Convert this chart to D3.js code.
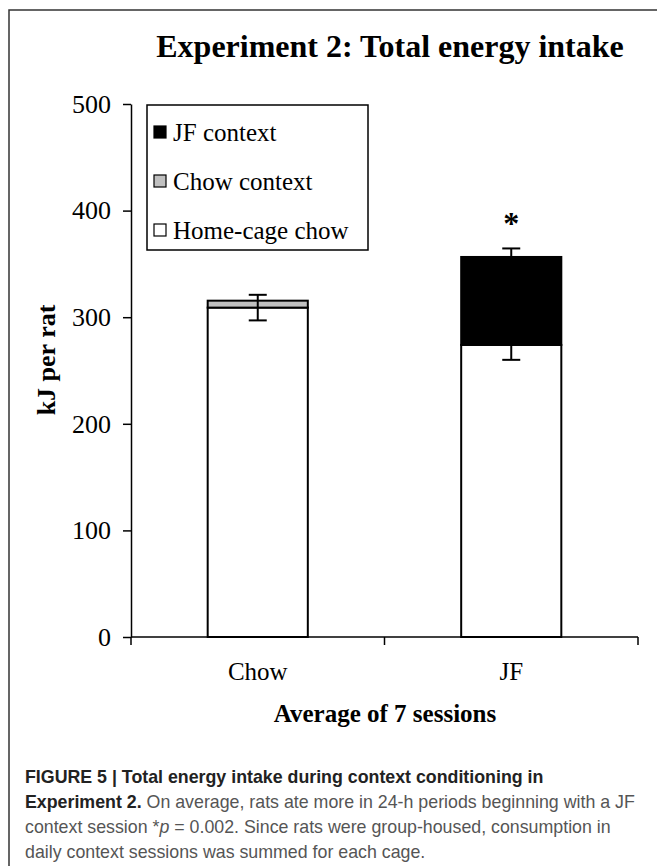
<!DOCTYPE html>
<meta charset="utf-8">
<script src="https://d3js.org/d3.v7.min.js"></script>
<style>
body { margin: 0; background: #fff; }
.axis path, .axis line { stroke: #000; stroke-width: 1.5; }
</style>
<body>
<div id="chart"></div>
<script>

// chart values
var groups = ["Chow", "JF"];
var homeCage = [309, 274];       // Home-cage chow
var chowContext = [6.5, 0];      // Chow context
var jfContext = [0, 82.5];       // JF context
var errHome = [12, 14];          // error on home-cage segment
var errTotal = [0, 8];           // error on stack total
var yTicks = [0, 100, 200, 300, 400, 500];
var legendNames = ["JF context", "Chow context", "Home-cage chow"];
var legendFills = ["#000", "#c0c0c0", "#fff"];

var SERIF = '"Liberation Serif", "Times New Roman", serif';
var SANS = '"Liberation Sans", Arial, sans-serif';

var W = 657, H = 866;
var margin = {top: 104, left: 131, right: 19, bottom: 229};
var width = W - margin.left - margin.right,
    height = H - margin.top - margin.bottom;

var svg = d3.select("#chart").append("svg")
    .attr("width", W)
    .attr("height", H);

// frame around the figure
svg.append("path")
    .attr("d", "M9,866V10H657")
    .attr("fill", "none")
    .attr("stroke", "#333")
    .attr("stroke-width", 1.5);

// title
svg.append("text")
    .attr("x", 390)
    .attr("y", 57)
    .attr("text-anchor", "middle")
    .style("font-family", SERIF)
    .style("font-size", "32px")
    .style("font-weight", "bold")
    .text("Experiment 2: Total energy intake");

var g = svg.append("g")
    .attr("transform", "translate(" + margin.left + "," + margin.top + ")");

var x = d3.scaleBand()
    .domain(groups)
    .range([0, width])
    .paddingInner(0.605)
    .paddingOuter(0.3025);

var y = d3.scaleLinear()
    .domain([0, 500])
    .range([height, 0]);

// stacked data
var rows = groups.map(function(d, i) {
  return {group: d, home: homeCage[i], chow: chowContext[i], jf: jfContext[i]};
});
var stack = d3.stack().keys(["home", "chow", "jf"])(rows);
var fills = {home: "#fff", chow: "#c0c0c0", jf: "#000"};

stack.forEach(function(layer) {
  g.selectAll(".bar-" + layer.key)
      .data(layer.filter(function(d) { return d[1] > d[0]; }))
    .enter().append("rect")
      .attr("class", "bar-" + layer.key)
      .attr("x", function(d) { return x(d.data.group); })
      .attr("width", x.bandwidth())
      .attr("y", function(d) { return y(d[1]); })
      .attr("height", function(d) { return y(d[0]) - y(d[1]); })
      .attr("fill", fills[layer.key])
      .attr("stroke", "#000")
      .attr("stroke-width", 2);
});

// error bars
var cap = 9;
function errorBar(cx, v, e) {
  g.append("line")
      .attr("x1", cx).attr("x2", cx)
      .attr("y1", y(v - e)).attr("y2", y(v + e))
      .attr("stroke", "#000").attr("stroke-width", 2);
  [v - e, v + e].forEach(function(t) {
    g.append("line")
        .attr("x1", cx - cap).attr("x2", cx + cap)
        .attr("y1", y(t)).attr("y2", y(t))
        .attr("stroke", "#000").attr("stroke-width", 2);
  });
}
groups.forEach(function(d, i) {
  var cx = x(d) + x.bandwidth() / 2;
  errorBar(cx, homeCage[i], errHome[i]);
  if (errTotal[i] > 0) errorBar(cx, homeCage[i] + chowContext[i] + jfContext[i], errTotal[i]);
});

// significance star
g.append("text")
    .attr("x", x("JF") + x.bandwidth() / 2)
    .attr("y", y(378))
    .attr("text-anchor", "middle")
    .style("font-family", SERIF)
    .style("font-size", "32px")
    .style("font-weight", "bold")
    .text("*");

// y axis
var yAxis = g.append("g")
    .attr("class", "axis")
    .call(d3.axisLeft(y).tickValues(yTicks).tickSize(8).tickSizeOuter(0).tickPadding(12));
yAxis.selectAll("text")
    .style("font-family", SERIF)
    .style("font-size", "26px");

// x axis with ticks between categories
var xAxis = g.append("g")
    .attr("class", "axis")
    .attr("transform", "translate(0," + height + ")");
xAxis.append("line")
    .attr("x1", 0).attr("x2", width)
    .attr("y1", 0).attr("y2", 0);
[0, width / 2, width].forEach(function(t) {
  xAxis.append("line")
      .attr("x1", t).attr("x2", t)
      .attr("y1", 0).attr("y2", 8);
});
xAxis.selectAll(".cat")
    .data(groups)
  .enter().append("text")
    .attr("class", "cat")
    .attr("x", function(d) { return x(d) + x.bandwidth() / 2; })
    .attr("y", 43)
    .attr("text-anchor", "middle")
    .style("font-family", SERIF)
    .style("font-size", "25px")
    .text(function(d) { return d; });
g.selectAll(".domain").attr("stroke", "#000").attr("stroke-width", 1.5);

// axis titles
svg.append("text")
    .attr("x", 385)
    .attr("y", 722)
    .attr("text-anchor", "middle")
    .style("font-family", SERIF)
    .style("font-size", "25px")
    .style("font-weight", "bold")
    .text("Average of 7 sessions");

svg.append("text")
    .attr("transform", "translate(55,360) rotate(-90)")
    .attr("text-anchor", "middle")
    .style("font-family", SERIF)
    .style("font-size", "26px")
    .style("font-weight", "bold")
    .text("kJ per rat");

// legend
var legend = svg.append("g").attr("transform", "translate(147,105)");
legend.append("rect")
    .attr("width", 221).attr("height", 145)
    .attr("fill", "#fff").attr("stroke", "#000").attr("stroke-width", 1.5);
legendNames.forEach(function(name, i) {
  var row = legend.append("g").attr("transform", "translate(7," + (21 + i * 49) + ")");
  row.append("rect")
      .attr("width", 12).attr("height", 12)
      .attr("fill", legendFills[i]).attr("stroke", "#000").attr("stroke-width", 1.2);
  row.append("text")
      .attr("x", 19).attr("y", 15)
      .style("font-family", SERIF)
      .style("font-size", "25px")
      .text(name);
});

// caption
var capLines = [
  [["b", "FIGURE 5 | Total energy intake during context conditioning in"]],
  [["b", "Experiment 2."], ["", " On average, rats ate more in 24-h periods beginning with a JF"]],
  [["", "context session *"], ["i", "p"], ["", " = 0.002. Since rats were group-housed, consumption in"]],
  [["", "daily context sessions was summed for each cage."]]
];
var capG = svg.append("g");
capLines.forEach(function(parts, i) {
  var t = capG.append("text")
      .attr("x", 25).attr("y", 783 + i * 25)
      .style("font-family", SANS)
      .style("font-size", "17.8px")
      .style("fill", "#555");
  parts.forEach(function(p) {
    var s = t.append("tspan").text(p[1]);
    if (p[0] === "b") s.style("font-weight", "bold").style("fill", "#222");
    if (p[0] === "i") s.style("font-style", "italic");
  });
});

</script>
</body>
